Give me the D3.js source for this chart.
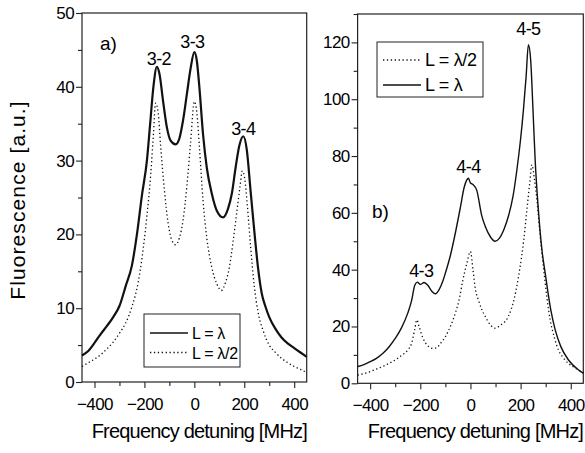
<!DOCTYPE html>
<html><head><meta charset="utf-8">
<script src="https://cdn.jsdelivr.net/npm/d3@7"></script>
<style>
body{margin:0;background:#fff;}
text{font-family:"Liberation Sans",Arial,sans-serif;fill:#000;}
</style></head>
<body><svg id="c" width="585" height="453"></svg>
<script>
// ---- Panel a) data (F=3) ----
const aSolidX = [-450,-425,-400,-375,-350,-325,-300,-275,-250,-230,-210,-190,-177,-164,-150,-140,-125,-110,-95,-75,-60,-45,-30,-15,0,10,20,35,50,70,90,115,135,150,165,180,196,210,225,240,255,270,285,300,325,350,375,400,425,450];
const aSolidY = [3.6,4.2,5.3,6.5,7.6,8.8,10.3,13,15.8,20,25.3,30,35,40,42.7,41.8,38,34.5,32.7,32.2,33,35.5,39,42.5,44.7,43.5,40,33.5,29,25.5,23.2,22.3,23.5,25.5,29,32,33.3,31.5,26,20.5,15.5,12,10.2,8.8,7.2,6,5.2,4.6,4,3.4];
const aDotX = [-450,-425,-400,-375,-350,-325,-300,-275,-250,-225,-205,-190,-175,-165,-155,-145,-135,-120,-105,-90,-75,-60,-45,-30,-15,0,10,20,35,50,70,90,108,125,140,155,170,183,192,202,212,225,240,255,275,300,325,350,375,400,425,450];
const aDotY = [2.1,2.6,3.1,3.7,4.5,5.4,6.6,8,10.2,13.5,18,22.5,28,33,37.8,36.5,32,26,21.5,19.2,18.6,19.5,22,26.5,32.5,38,36.5,32,24.5,19.5,15.5,13.3,12.4,13.5,15.5,19,23,26.5,28.6,27.5,24,18.5,13,9.5,7,5,4,3.2,2.6,2.1,1.7,1.3];
const aPeakLabels = ["3-2","3-3","3-4"];
const aPeakX = [-150,0,196];
const aPeakY = [42.7,44.7,33.3];

// ---- Panel b) data (F=4) ----
const bSolidX = [-450,-425,-400,-375,-350,-325,-300,-275,-250,-235,-222,-212,-200,-185,-170,-155,-140,-125,-110,-100,-80,-60,-40,-25,-15,-8,0,10,25,45,60,80,98,115,135,151,170,185,200,211,222,231,240,250,258,270,285,298,320,338,360,391,431,450];
const bSolidY = [5.9,6.6,7.6,8.8,10.5,12.8,15.8,19.5,24.7,29,34.5,35.6,34.8,35.5,34.5,32.5,31.5,33,36,38.8,45,53,62,69,71.5,72.2,70.5,70,68,59,55,51.5,50,51,54.5,58.7,66,75,86,96,108,119.2,114,95,78.7,62,47,38.8,26,18.8,13,8.2,4.7,3.6];
const bDotX = [-450,-425,-400,-375,-350,-325,-300,-275,-250,-235,-222,-214,-205,-190,-170,-150,-135,-120,-100,-80,-60,-45,-30,-15,0,10,20,32,45,59,80,98,120,151,175,198,212,225,237,245,255,265,278,291,305,318,335,351,370,391,410,431,450];
const bDotY = [2.9,3.4,4.1,5,5.9,7,8.2,9.8,11.7,14,19,22.3,20,16,13.2,12.3,12.5,14,16.4,20,24.8,29.5,36.4,42,46.4,40,33,29.3,26,23.5,20.5,19.4,20.5,23.5,30,41,50,61,71,76.9,72,64.6,52,41,30,22.3,16,11.7,9,7,5.8,4.7,3.6];
const bPeakLabels = ["4-3","4-4","4-5"];
const bPeakX = [-200,-8,231];
const bPeakY = [35.6,72.2,119.2];

const xTicks = [-400,-200,0,200,400];
const xMinor = [-300,-100,100,300];
const aYTicks = [0,10,20,30,40,50];
const aYMinor = [5,15,25,35,45];
const bYTicks = [0,20,40,60,80,100,120];
const bYMinor = [10,30,50,70,90,110,130];
const legendA = ["L = λ","L = λ/2"];
const legendB = ["L = λ/2","L = λ"];
const xTitle = "Frequency detuning [MHz]";
const yTitle = "Fluorescence [a.u.]";

const svg = d3.select("#c");

function panel(o){
  const x = d3.scaleLinear().domain([-450,450]).range([o.x0,o.x1]);
  const y = d3.scaleLinear().domain(o.yDom).range([o.y1,o.y0]);
  const g = svg.append("g");
  g.append("rect").attr("x",o.x0).attr("y",o.y0).attr("width",o.x1-o.x0).attr("height",o.y1-o.y0)
    .attr("fill","none").attr("stroke","#222").attr("stroke-width",1.2);
  g.append("g").attr("transform",`translate(0,${o.y1})`)
    .call(d3.axisBottom(x).tickValues(xTicks).tickSize(6).tickPadding(10).tickFormat(d3.format("d")));
  g.append("g").attr("transform",`translate(0,${o.y1})`)
    .call(d3.axisBottom(x).tickValues(xMinor).tickSize(4).tickFormat(""));
  g.append("g").attr("transform",`translate(${o.x0},0)`)
    .call(d3.axisLeft(y).tickValues(o.yTicks).tickSize(6).tickPadding(2));
  g.append("g").attr("transform",`translate(${o.x0},0)`)
    .call(d3.axisLeft(y).tickValues(o.yMinor.filter(v=>v<=o.yDom[1])).tickSize(4).tickFormat(""));
  g.selectAll(".domain").remove();
  g.selectAll(".tick line").attr("stroke","#222").attr("stroke-width",1.1);
  g.selectAll(".tick text").attr("font-size",17).attr("letter-spacing","-0.6px")
    .style("font-family","'Liberation Sans',Arial,sans-serif").attr("fill","#000");
  const line = d3.line().x(d=>x(d[0])).y(d=>y(d[1])).curve(d3.curveMonotoneX);
  g.append("path").datum(d3.zip(o.dx,o.dy)).attr("d",line).attr("fill","none")
    .attr("stroke","#111").attr("stroke-width",1.3).attr("stroke-dasharray","1.3,2.6");
  g.append("path").datum(d3.zip(o.sx,o.sy)).attr("d",line).attr("fill","none")
    .attr("stroke","#111").attr("stroke-width",o.sw);
  o.labels.forEach((t,i)=>{
    g.append("text").attr("x",x(o.px[i])+o.lOff[i][0]).attr("y",y(o.py[i])+o.lOff[i][1])
      .attr("text-anchor","middle").attr("font-size",18).attr("letter-spacing","-0.6px").text(t);
  });
  g.append("text").attr("x",o.tag[1]).attr("y",o.tag[2]).attr("font-size",19).text(o.tag[0]);
  g.append("text").attr("x",(o.x0+o.x1)/2+5).attr("y",438).attr("text-anchor","middle")
    .attr("font-size",20).attr("letter-spacing","-0.8px").text(xTitle);
  const L = o.leg;
  g.append("rect").attr("x",L.x).attr("y",L.y).attr("width",L.w).attr("height",L.h)
    .attr("fill","#fff").attr("stroke","#222").attr("stroke-width",1);
  L.items.forEach((t,i)=>{
    const yy = L.y + L.r0 + i*L.dr;
    g.append("line").attr("x1",L.x+6).attr("x2",L.x+44).attr("y1",yy).attr("y2",yy)
      .attr("stroke","#111").attr("stroke-width",1.3)
      .attr("stroke-dasharray", L.dash[i] ? "1.3,2.6" : null);
    g.append("text").attr("x",L.x+48).attr("y",yy+6).attr("font-size",L.fs).attr("letter-spacing","-0.3px").text(t);
  });
}

panel({x0:82,x1:306.7,y0:13,y1:382,yDom:[0,50],yTicks:aYTicks,yMinor:aYMinor,
  sx:aSolidX,sy:aSolidY,dx:aDotX,dy:aDotY,sw:2.2,
  labels:aPeakLabels,px:aPeakX,py:aPeakY,lOff:[[2,-2],[-2,-4],[0,-1.5]],
  tag:["a)",100,50],
  leg:{x:144,y:314,w:96,h:53,r0:19,dr:19.5,fs:16,items:legendA,dash:[false,true]}});

panel({x0:357.6,x1:583.3,y0:14,y1:383.3,yDom:[0,130],yTicks:bYTicks,yMinor:bYMinor,
  sx:bSolidX,sy:bSolidY,dx:bDotX,dy:bDotY,sw:1.4,
  labels:bPeakLabels,px:bPeakX,py:bPeakY,lOff:[[1,-5],[0,-5],[0,-10]],
  tag:["b)",372,218],
  leg:{x:377,y:42,w:106,h:55,r0:18,dr:25,fs:18,items:legendB,dash:[true,false]}});

svg.append("text").attr("transform","translate(25,200) rotate(-90)").attr("text-anchor","middle")
  .attr("font-size",21).attr("letter-spacing","1.1px").text(yTitle);
</script></body></html>
